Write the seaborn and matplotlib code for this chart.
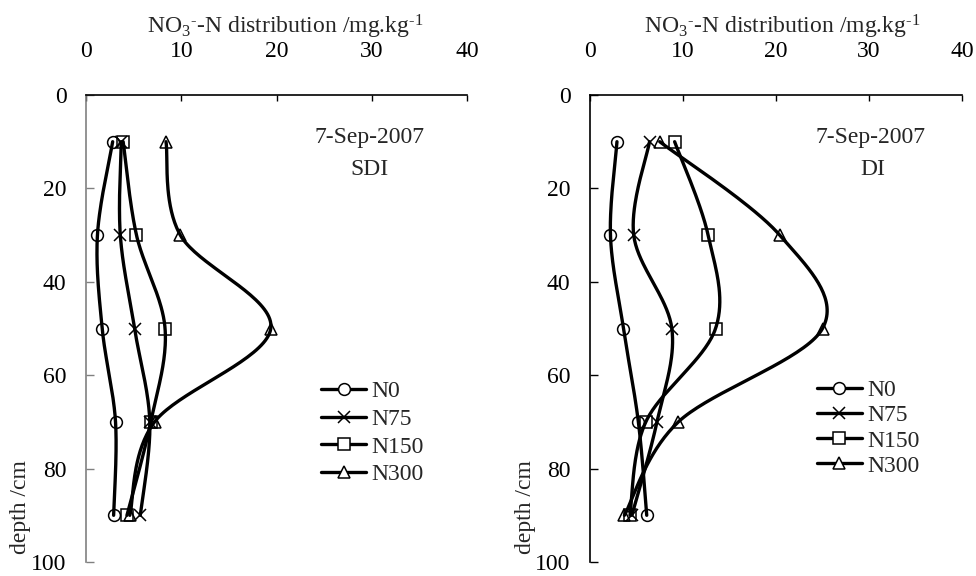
import numpy as np
import pandas as pd
import matplotlib
matplotlib.use("Agg")
import matplotlib.pyplot as plt
import seaborn as sns
from matplotlib.lines import Line2D

# ---- data ----
depth = [10, 30, 50, 70, 90]
series_names = ["N0", "N75", "N150", "N300"]
sdi_n0 = [2.8, 1.2, 1.7, 3.1, 2.9]
sdi_n75 = [3.7, 3.6, 5.1, 6.7, 5.7]
sdi_n150 = [3.9, 5.3, 8.3, 6.8, 4.3]
sdi_n300 = [8.4, 9.9, 19.4, 7.2, 4.6]
di_n0 = [2.9, 2.2, 3.6, 5.2, 6.1]
di_n75 = [6.4, 4.7, 8.8, 7.2, 4.5]
di_n150 = [9.1, 12.7, 13.5, 6.0, 4.3]
di_n300 = [7.5, 20.4, 25.0, 9.5, 3.7]
x_ticks = [0, 10, 20, 30, 40]
y_ticks = [0, 20, 40, 60, 80, 100]
date_label = "7-Sep-2007"
panel_labels = ["SDI", "DI"]
xlabel = r"NO$_3$$^{\text{-}}$-N distribution /mg.kg$^{\text{-1}}$"
ylabel = "depth /cm"

sns.set_theme(style="white")
plt.rcParams["font.family"] = ["Liberation Serif", "DejaVu Serif"]
plt.rcParams["mathtext.fontset"] = "custom"
plt.rcParams["mathtext.rm"] = "Liberation Serif"
plt.rcParams["mathtext.it"] = "Liberation Serif"
plt.rcParams["mathtext.default"] = "regular"

FS = 17
markers = ["o", "x", "s", "^"]


def smooth(xs, ys, sx, sy, n=40):
    P = np.column_stack([np.asarray(xs, float) * sx, np.asarray(ys, float) * sy])
    out = []
    for i in range(len(P) - 1):
        p0 = P[i - 1] if i > 0 else P[i]
        p1 = P[i]
        p2 = P[i + 1]
        p3 = P[i + 2] if i + 2 < len(P) else P[i + 1]
        c1 = p1 + (p2 - p0) / 6
        c2 = p2 - (p3 - p1) / 6
        t = np.linspace(0, 1, n)[:, None]
        seg = (1 - t) ** 3 * p1 + 3 * (1 - t) ** 2 * t * c1 + 3 * (1 - t) * t ** 2 * c2 + t ** 3 * p2
        out.append(seg if i == 0 else seg[1:])
    S = np.vstack(out)
    return S[:, 0] / sx, S[:, 1] / sy


fig = plt.figure(figsize=(9.76, 5.76), dpi=100)
TOP, BOT = 95, 562
H = BOT - TOP
ax1 = fig.add_axes([86 / 976, 1 - BOT / 576, 381 / 976, H / 576])
ax2 = fig.add_axes([590 / 976, 1 - BOT / 576, 372 / 976, H / 576])

panels = [
    (ax1, [sdi_n0, sdi_n75, sdi_n150, sdi_n300], panel_labels[0], 381, 0.745, 0.745, 0.522, "#808080",
     (0.617, 0.388), 0.26),
    (ax2, [di_n0, di_n75, di_n150, di_n300], panel_labels[1], 372, 0.753, 0.761, 0.516, "black",
     (0.61, 0.39), 0.15),
]

for ax, data, plab, wpx, dx, lx, tx, lcol, lpos, lspace in panels:
    sx = wpx / 40.0
    sy = H / 100.0
    for vals, name, mk in zip(data, series_names, markers):
        cx, cy = smooth(vals, depth, sx, sy)
        df = pd.DataFrame({"x": cx, "y": cy})
        sns.lineplot(data=df, x="x", y="y", sort=False, estimator=None, color="black",
                     lw=2.4, ax=ax, legend=False)
    for vals, name, mk in zip(data, series_names, markers):
        ax.plot(vals, depth, linestyle="none", marker=mk, ms=8.5, mfc="none",
                mec="black", mew=1.1, zorder=5, clip_on=False)
    ax.set_xlim(0, 40)
    ax.set_ylim(100, 0)
    ax.set_xticks(x_ticks)
    ax.set_yticks(y_ticks)
    ax.xaxis.tick_top()
    ax.tick_params(axis="x", direction="in", length=4, width=1, pad=24, labelsize=FS,
                   colors="black", top=True, bottom=False)
    ax.tick_params(axis="y", direction="in", length=6, width=1, pad=14, labelsize=FS,
                   colors="black", left=True, color=lcol)
    ax.set_xlabel("")
    ax.set_ylabel("")
    for s in ["right", "bottom"]:
        ax.spines[s].set_visible(False)
    ax.spines["top"].set_color("black")
    ax.spines["top"].set_linewidth(1.2)
    ax.spines["left"].set_color(lcol)
    ax.spines["left"].set_linewidth(1.2)
    ax.text(tx, 1.145, xlabel, transform=ax.transAxes, ha="center", va="center", fontsize=FS)
    ax.text(-0.173, 0.117, ylabel, transform=ax.transAxes, ha="center", va="center",
            rotation=90, fontsize=FS)
    ax.text(dx, 0.910, date_label, transform=ax.transAxes, ha="center", va="center", fontsize=FS)
    ax.text(lx, 0.840, plab, transform=ax.transAxes, ha="center", va="center", fontsize=FS)
    handles = [Line2D([], [], color="black", lw=2.4, marker=mk, ms=8.5, mfc="white",
                      mec="black", mew=1.1) for mk in markers]
    ax.legend(handles, series_names, loc="upper left", bbox_to_anchor=lpos, frameon=False,
              fontsize=FS, handlelength=1.9, handletextpad=0.25, labelspacing=lspace,
              borderpad=0, borderaxespad=0)
    ax.set_facecolor("white")

fig.savefig("out.png", dpi=100, facecolor="white")
